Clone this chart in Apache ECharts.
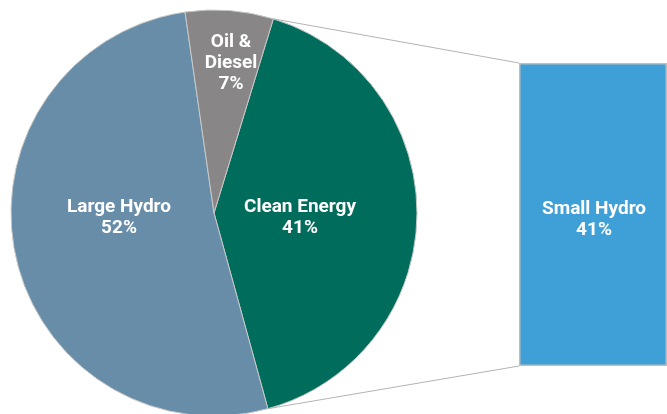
<!DOCTYPE html>
<html><head><meta charset="utf-8">
<script src="https://cdn.jsdelivr.net/npm/echarts@6/dist/echarts.min.js"></script>
<style>html,body{margin:0;padding:0;background:#fff}#c{width:667px;height:414px}</style>
</head><body><div id="c"></div>
<script>
var pieNames = ['Clean Energy', 'Large Hydro', 'Oil &\nDiesel'];
var pieValues = [41, 52, 7];
var pieColors = ['#006c5b', '#688da8', '#888687'];
var barName = ['Small Hydro'];
var barValues = [41];

var cx = 214, cy = 213, R = 203;
var startAngle = 73;
// label centres relative to the pie centre
var labelPos = [[86, 5], [-95, 5], [17, -150]];

var chart = echarts.init(document.getElementById('c'));
var font = 'Roboto, "Liberation Sans", sans-serif';
chart.setOption({
  animation: false,
  grid: { left: 519, top: 63, width: 170, height: 303 },
  xAxis: { type: 'category', data: barName, show: false },
  yAxis: { type: 'value', min: 0, max: barValues[0], show: false },
  series: [
    {
      type: 'pie',
      center: [cx, cy],
      radius: [0, R],
      startAngle: startAngle,
      clockwise: true,
      data: pieNames.map(function (n, i) {
        return { name: n, value: pieValues[i], itemStyle: { color: pieColors[i] } };
      }),
      itemStyle: { borderColor: '#c8c8c8', borderWidth: 1 },
      label: {
        position: 'inside',
        color: '#fff',
        fontFamily: font,
        fontWeight: 'bold',
        fontSize: 19,
        lineHeight: 21,
        align: 'center',
        verticalAlign: 'middle',
        formatter: function (p) { return p.name + '\n' + p.value + '%'; }
      },
      labelLayout: function (p) {
        var o = labelPos[p.dataIndex];
        return { x: cx + o[0], y: cy + o[1], align: 'center', verticalAlign: 'middle' };
      },
      emphasis: { disabled: true }
    },
    {
      type: 'bar',
      data: barValues,
      barWidth: '100%',
      itemStyle: { color: '#3ea0d6', borderColor: '#bdbdbd', borderWidth: 1.5 },
      label: {
        show: true, position: 'inside', color: '#fff',
        fontFamily: font, fontWeight: 'bold', fontSize: 19, lineHeight: 21,
        offset: [1, 5],
        formatter: function (p) { return p.name + '\n' + p.value + '%'; }
      },
      emphasis: { disabled: true }
    }
  ]
});

// connector lines from the Clean Energy slice edges to the bar corners
var a0 = (90 - startAngle) * Math.PI / 180;
var a1 = a0 + pieValues[0] / pieValues.reduce(function (s, v) { return s + v; }, 0) * 2 * Math.PI;
var p0 = [cx + R * Math.sin(a0), cy - R * Math.cos(a0)];
var p1 = [cx + R * Math.sin(a1), cy - R * Math.cos(a1)];
var grid = chart.getModel().getComponent('grid', 0).coordinateSystem.getRect();
chart.setOption({
  graphic: [
    { type: 'line', shape: { x1: p0[0], y1: p0[1], x2: grid.x, y2: grid.y }, style: { stroke: '#b3b3b3', lineWidth: 1 }, z: 10 },
    { type: 'line', shape: { x1: p1[0], y1: p1[1], x2: grid.x, y2: grid.y + grid.height }, style: { stroke: '#b3b3b3', lineWidth: 1 }, z: 10 }
  ]
});
</script></body></html>
